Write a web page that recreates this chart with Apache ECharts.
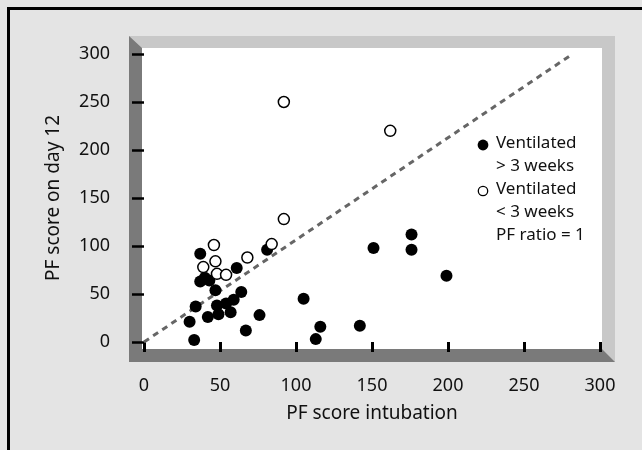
<!DOCTYPE html>
<html>
<head>
<meta charset="utf-8">
<script src="https://cdn.jsdelivr.net/npm/echarts@6/dist/echarts.min.js"></script>
<style>
html,body{margin:0;padding:0;background:#e4e4e4;}
#chart{width:642px;height:450px;}
</style>
</head>
<body>
<div id="chart"></div>
<script>
// Data
const ventilatedOver3Weeks = [
  [37, 92], [37, 63], [40, 67], [43, 64], [61, 77], [47, 54],
  [34, 37], [30, 21], [33, 2], [42, 26], [48, 38], [49, 29],
  [54, 40], [57, 31], [59, 44], [64, 52], [67, 12], [76, 28],
  [81, 96], [105, 45], [113, 3], [116, 16], [142, 17], [151, 98],
  [176, 112], [176, 96], [199, 69]
];
const ventilatedUnder3Weeks = [
  [92, 250], [162, 220], [92, 128], [84, 102], [46, 101],
  [68, 88], [47, 84], [39, 78], [48, 71], [54, 70]
];
const pfRatioLine = [[0, 0], [282, 300]];
const axisTicks = [0, 50, 100, 150, 200, 250, 300];
const legendLines = ['Ventilated', '> 3 weeks', 'Ventilated', '< 3 weeks', 'PF ratio = 1'];

const FONT = 'Noto Sans';
const chart = echarts.init(document.getElementById('chart'));

const legendY = [147, 170, 193, 216, 239];
const legendGraphics = legendLines.map((t, i) => ({
  type: 'text', z: 50, left: 496, top: legendY[i] - 12,
  style: { text: t, font: '17px "' + FONT + '"', fill: '#111' }
}));

chart.setOption({
  animation: false,
  backgroundColor: '#e4e4e4',
  graphic: [
    { type: 'rect', z: -20, shape: { x: 129, y: 36, width: 486, height: 326 }, style: { fill: '#c8c8c8' } },
    { type: 'polygon', z: -19, shape: { points: [[129, 36], [142, 48], [142, 349], [602, 349], [615, 362], [129, 362]] }, style: { fill: '#7a7a7a' } },
    { type: 'rect', z: -18, shape: { x: 142, y: 48, width: 460, height: 301 }, style: { fill: '#ffffff' } },
    { type: 'rect', z: -17, shape: { x: 7, y: 7, width: 642, height: 3 }, style: { fill: '#000' } },
    { type: 'rect', z: -17, shape: { x: 7, y: 7, width: 3, height: 450 }, style: { fill: '#000' } },
    { type: 'circle', z: 50, shape: { cx: 483, cy: 145, r: 5.4 }, style: { fill: '#000' } },
    { type: 'circle', z: 50, shape: { cx: 483, cy: 191, r: 4.7 }, style: { fill: '#fff', stroke: '#000', lineWidth: 1.3 } }
  ].concat(legendGraphics),
  grid: { left: 144, top: 54, width: 456, height: 288, containLabel: false },
  xAxis: {
    type: 'value', min: axisTicks[0], max: axisTicks[axisTicks.length - 1], interval: 50,
    offset: 21,
    axisLine: { show: false },
    axisTick: { show: true, length: 10, lineStyle: { color: '#000', width: 3 } },
    splitLine: { show: false },
    axisLabel: { margin: 14, color: '#111', fontFamily: FONT, fontSize: 18 },
    name: 'PF score intubation', nameLocation: 'middle', nameGap: 41,
    nameTextStyle: { color: '#111', fontFamily: FONT, fontSize: 19 }
  },
  yAxis: {
    type: 'value', min: axisTicks[0], max: axisTicks[axisTicks.length - 1], interval: 50,
    offset: 16,
    axisLine: { show: false },
    axisTick: { show: true, length: 12, lineStyle: { color: '#000', width: 2.5 } },
    splitLine: { show: false },
    axisLabel: { margin: 18, color: '#111', fontFamily: FONT, fontSize: 18 },
    name: 'PF score on day 12', nameLocation: 'middle', nameGap: 65,
    nameTextStyle: { color: '#111', fontFamily: FONT, fontSize: 19 }
  },
  series: [
    {
      name: 'PF ratio = 1', type: 'line', data: pfRatioLine, z: 1,
      symbol: 'none', silent: true,
      lineStyle: { color: '#666', width: 3, type: [6, 5] }
    },
    {
      name: 'Ventilated > 3 weeks', type: 'scatter', data: ventilatedOver3Weeks, z: 3,
      symbol: 'circle', symbolSize: 12,
      itemStyle: { color: '#000', opacity: 1 }
    },
    {
      name: 'Ventilated < 3 weeks', type: 'scatter', data: ventilatedUnder3Weeks, z: 4,
      symbol: 'circle', symbolSize: 11,
      itemStyle: { color: '#fff', borderColor: '#000', borderWidth: 1.5, opacity: 1 }
    }
  ]
});
</script>
</body>
</html>
